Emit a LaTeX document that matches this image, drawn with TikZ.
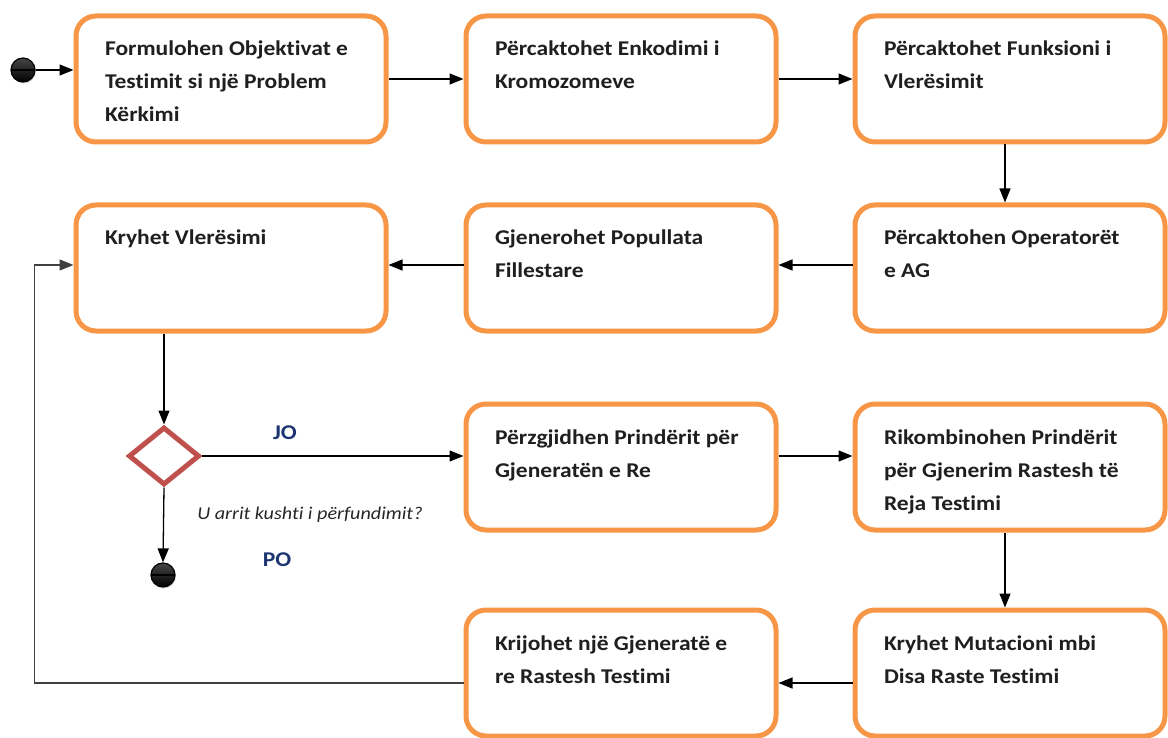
\documentclass[tikz,border=0pt]{standalone}
\usepackage{fontspec}
\setmainfont{Carlito}[FakeStretch=1.12, Ligatures=NoCommon]
\usetikzlibrary{arrows.meta,shapes.geometric,shadows}
\definecolor{boxorange}{RGB}{247,150,70}
\definecolor{decred}{RGB}{192,80,77}
\definecolor{labelnavy}{RGB}{28,52,112}
% top-aligned text block for the process boxes
\newcommand{\boxtext}[1]{\parbox[c][124pt][t]{252pt}{\raggedright\rule{0pt}{39pt}#1}}
\tikzset{
  flowbox/.style={draw=boxorange, line width=5pt, rounded corners=20pt, fill=white,
    minimum width=310pt, minimum height=126pt, inner sep=0pt,
    font=\fontsize{21}{33}\selectfont\bfseries, text=black!88},
  decision/.style={diamond, draw=decred, line width=5pt, fill=white,
    minimum width=71pt, minimum height=58pt, inner sep=0pt},
  blackdot/.style={circle, minimum size=24pt, inner sep=0pt, draw=black, line width=1.2pt,
    top color=gray!55!black, bottom color=black,
    drop shadow={opacity=0.3, shadow xshift=1pt, shadow yshift=-1.5pt},
    path picture={\draw[black, line width=1.2pt] (path picture bounding box.west) -- (path picture bounding box.east);}},
  conn/.style={line width=1.3pt, black, -{Triangle[length=14pt,width=11pt]}},
  feedback/.style={conn, black!75},
  answer/.style={font=\fontsize{21}{24}\selectfont\bfseries, text=labelnavy, inner sep=1pt},
  question/.style={font=\fontsize{18}{21}\selectfont\itshape, text=black!85, inner sep=1pt}
}
\begin{document}
\begin{tikzpicture}[x=1pt, y=-1pt]
\useasboundingbox (0,0) rectangle (1168,738);

% process steps
\node[flowbox] (formulo) at (231,79) {\boxtext{Formulohen Objektivat e\\Testimit si një Problem\\Kërkimi}};
\node[flowbox] (enkod) at (621,79) {\boxtext{Përcaktohet Enkodimi i\\Kromozomeve}};
\node[flowbox] (funks) at (1010,79) {\boxtext{Përcaktohet Funksioni i\\Vlerësimit}};
\node[flowbox] (operat) at (1010,268) {\boxtext{Përcaktohen Operatorët\\e AG}};
\node[flowbox] (popull) at (621,268) {\boxtext{Gjenerohet Popullata\\Fillestare}};
\node[flowbox] (vleres) at (231,268) {\boxtext{Kryhet Vlerësimi}};
\node[flowbox] (perzgj) at (621,467) {\boxtext{Përzgjidhen Prindërit për\\Gjeneratën e Re}};
\node[flowbox] (rikomb) at (1010,467) {\boxtext{Rikombinohen Prindërit\\për Gjenerim Rastesh të\\Reja Testimi}};
\node[flowbox] (mutac) at (1010,673) {\boxtext{Kryhet Mutacioni mbi\\Disa Raste Testimi}};
\node[flowbox] (krijo) at (621,673) {\boxtext{Krijohet një Gjeneratë e\\re Rastesh Testimi}};

% decision, start and end
\node[decision] (kusht) at (164,456) {};
\node[blackdot] (start) at (23,70) {};
\node[blackdot] (finish) at (163,575) {};

% labels
\node[answer] (jo) at (285,433) {JO};
\node[answer] (po) at (277,560) {PO};
\node[question] (pyetja) at (310,515) {U arrit kushti i përfundimit?};

% connectors
\draw[conn] (start) -- (start -| formulo.west);
\draw[conn] (formulo.east) -- (enkod.west);
\draw[conn] (enkod.east) -- (funks.west);
\draw[conn] ([xshift=-5pt]funks.south) -- ([xshift=-5pt]operat.north);
\draw[conn] ([yshift=3pt]operat.west) -- ([yshift=3pt]popull.east);
\draw[conn] ([yshift=3pt]popull.west) -- ([yshift=3pt]vleres.east);
\draw[conn] (vleres.south -| kusht.north) -- (kusht.north);
\draw[conn] (kusht.east) -- (kusht.east -| perzgj.west);
\draw[conn] (kusht.south) -- (finish.north);
\draw[conn] ([yshift=11pt]perzgj.east) -- ([yshift=11pt]rikomb.west);
\draw[conn] ([xshift=-5pt]rikomb.south) -- ([xshift=-5pt]mutac.north);
\draw[conn] ([yshift=-10pt]mutac.west) -- ([yshift=-10pt]krijo.east);
\draw[feedback] ([yshift=-10pt]krijo.west) -| ([xshift=-39pt,yshift=3pt]vleres.west) -- ([yshift=3pt]vleres.west);
\end{tikzpicture}
\end{document}
